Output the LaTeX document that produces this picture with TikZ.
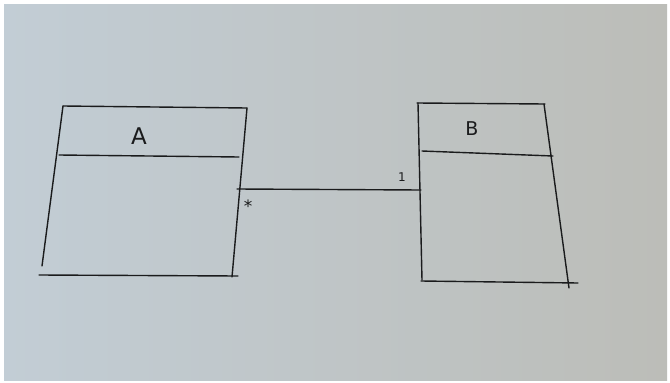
\documentclass[tikz,border=0pt]{standalone}
\usepackage{fontspec}
\setmainfont{DejaVu Sans}
\definecolor{paperL}{HTML}{C2CDD5}
\definecolor{paperM}{HTML}{D0D4D6}
\definecolor{paperR}{HTML}{BCBDB8}
\definecolor{ink}{HTML}{1A1B1C}
\tikzset{
  pen/.style={draw=ink, line width=1.4pt, line cap=round},
  classname/.style={text=ink, font=\fontsize{19}{19}\selectfont, inner sep=0pt},
  multlabel/.style={text=ink, font=\fontsize{12}{12}\selectfont, inner sep=0pt}
}
\begin{document}
\begin{tikzpicture}[x=1pt,y=-1pt]
\useasboundingbox (0,0) rectangle (670,383);
\fill[white] (0,0) rectangle (670,383);
\shade[left color=paperL, middle color=paperM, right color=paperR] (4,4) rectangle (667,380);
% class A corners
\coordinate (aTL) at (63,106);
\coordinate (aTR) at (247,108);
\coordinate (aLB) at (42,266);
\coordinate (aRB) at (232,277);
\coordinate (aBL) at (39,275);
\coordinate (aBR) at (238,276);
\coordinate (aDL) at (59,155);
\coordinate (aDR) at (239,157);
\coordinate (aConn) at (237,189);
% class B corners
\coordinate (bTL) at (417,103);
\coordinate (bTR) at (545,104);
\coordinate (bLB) at (422,280);
\coordinate (bRB) at (569,288);
\coordinate (bBL) at (421,281);
\coordinate (bBR) at (578,283);
\coordinate (bDL) at (422,151);
\coordinate (bDR) at (553,156);
\coordinate (bConn) at (421,190);
% class A
\draw[pen] (aTL) -- (aTR);
\draw[pen] (aTL) -- (aLB);
\draw[pen] (aTR) -- (aRB);
\draw[pen] (aBL) -- (aBR);
\draw[pen] (aDL) -- (aDR);
\node[classname, font=\fontsize{23}{23}\selectfont] (labelA) at (139,136) {A};
% class B
\draw[pen] (bTL) -- (bTR);
\draw[pen] (418,103) -- (bLB);
\draw[pen] (544,104) -- (bRB);
\draw[pen] (bBL) -- (bBR);
\draw[pen] (bDL) -- (bDR);
\node[classname] (labelB) at (472,129) {B};
% association
\draw[pen] (aConn) -- (bConn);
\node[multlabel, font=\fontsize{17}{17}\selectfont] (multA) at (248,206) {*};
\node[multlabel] (multB) at (402,177) {1};
\end{tikzpicture}
\end{document}
